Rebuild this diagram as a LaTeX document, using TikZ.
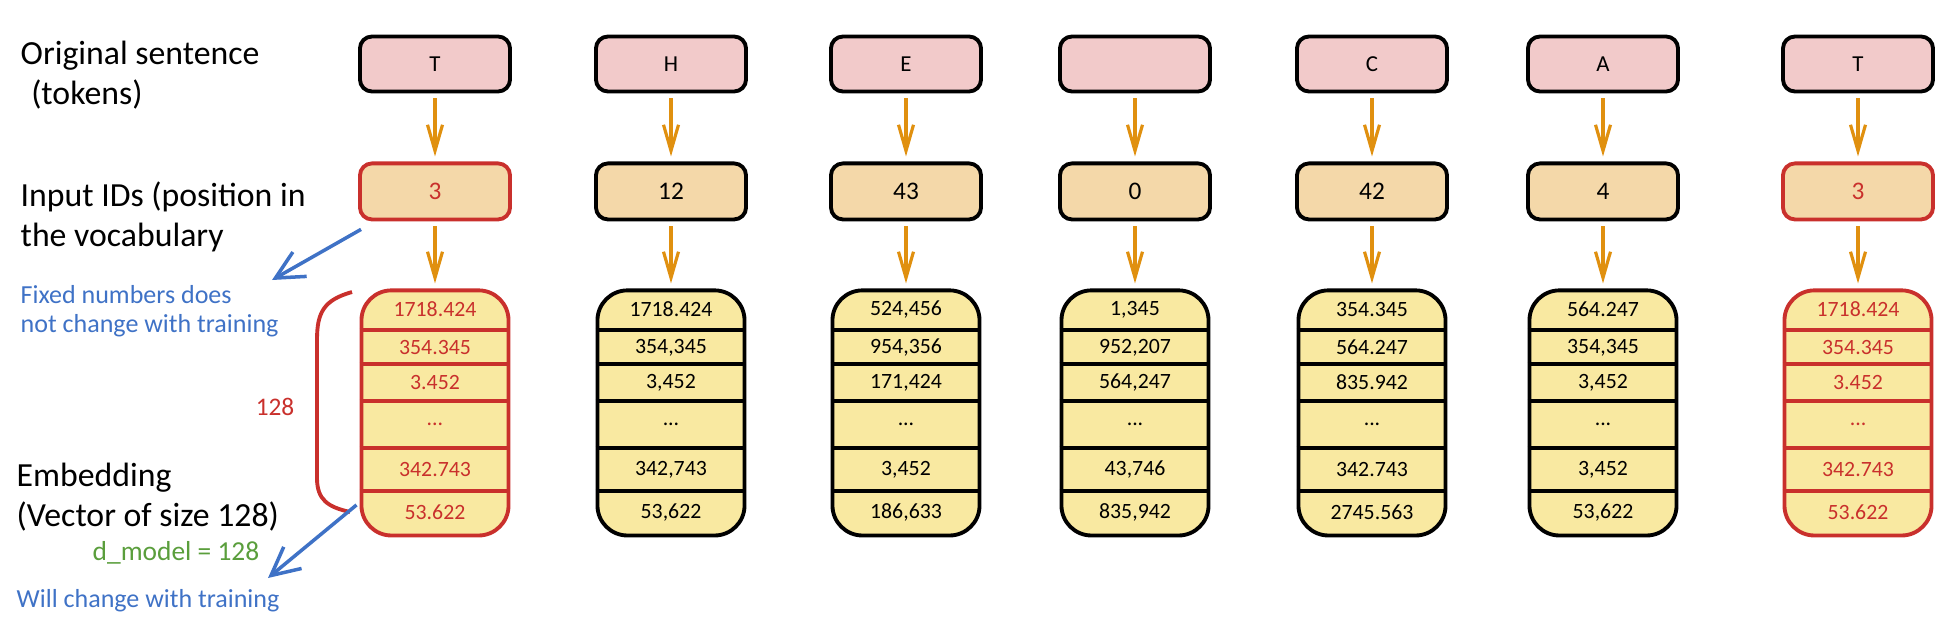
\documentclass[tikz,border=0pt]{standalone}
\usepackage{fontspec}
\setmainfont{Carlito}
\usetikzlibrary{arrows.meta, positioning, calc}

\definecolor{tokpink}{HTML}{F2CACA}
\definecolor{idtan}{HTML}{F4D8A9}
\definecolor{embyellow}{HTML}{F9E9A1}
\definecolor{keyred}{HTML}{C9302C}
\definecolor{arrorange}{HTML}{E0900F}
\definecolor{noteblue}{HTML}{3F72C6}
\definecolor{dimgreen}{HTML}{5A9E3C}

\begin{document}
\begin{tikzpicture}[
    x=0.01cm, y=-0.01cm,
    node distance=0.68cm,
    edge/.style={-{Straight Barb[length=2.6mm, width=1.5mm]}, line width=0.9pt, arrorange, shorten <=0.5mm, shorten >=0.5mm},
    noteedge/.style={-{Straight Barb[length=2.8mm, width=2.8mm]}, line width=1pt, noteblue},
    tok/.style={rectangle, draw, line width=1.1pt, rounded corners=1.2mm, minimum width=1.5cm, minimum height=0.55cm, fill=tokpink, font=\fontsize{6.5}{8}\selectfont},
    tid/.style={rectangle, draw, line width=1.1pt, rounded corners=1.2mm, minimum width=1.5cm, minimum height=0.56cm, fill=idtan, font=\fontsize{7.2}{8}\selectfont},
    emb/.style={rectangle, draw, line width=1.1pt, rounded corners=3mm, minimum width=1.47cm, minimum height=2.45cm, fill=embyellow},
    cell/.style={font=\fontsize{6.2}{7}\selectfont, inner sep=0pt},
    hot/.style={draw=keyred, text=keyred},
    lbl/.style={anchor=west, align=left, inner sep=0pt, font=\fontsize{9.6}{11.5}\selectfont},
    note/.style={anchor=west, align=left, inner sep=0pt, text=noteblue, font=\fontsize{7.4}{8.3}\selectfont}
]
    \useasboundingbox (0,0) rectangle (1957,618);

    % tokens
    \node[tok] (t1) at (435,64)  {T};
    \node[tok] (t2) at (671,64)  {H};
    \node[tok] (t3) at (906,64)  {E};
    \node[tok] (t4) at (1135,64) {};
    \node[tok] (t5) at (1372,64) {C};
    \node[tok] (t6) at (1603,64) {A};
    \node[tok] (t7) at (1858,64) {T};

    % input ids
    \node[tid, hot, below=of t1] (i1) {3};
    \node[tid, below=of t2] (i2) {12};
    \node[tid, below=of t3] (i3) {43};
    \node[tid, below=of t4] (i4) {0};
    \node[tid, below=of t5] (i5) {42};
    \node[tid, below=of t6] (i6) {4};
    \node[tid, hot, below=of t7] (i7) {3};

    % embeddings
    \node[emb, hot, below=0.67cm of i1] (e1) {};
    \node[emb, below=0.67cm of i2] (e2) {};
    \node[emb, below=0.67cm of i3] (e3) {};
    \node[emb, below=0.67cm of i4] (e4) {};
    \node[emb, below=0.67cm of i5] (e5) {};
    \node[emb, below=0.67cm of i6] (e6) {};
    \node[emb, hot, below=0.67cm of i7] (e7) {};

    \foreach \n/\c/\va/\vb/\vc/\vd/\ve in {
        1/keyred/1718.424/354.345/3.452/342.743/53.622,
        2/black/1718.424/{354,345}/{3,452}/{342,743}/{53,622},
        3/black/{524,456}/{954,356}/{171,424}/{3,452}/{186,633},
        4/black/{1,345}/{952,207}/{564,247}/{43,746}/{835,942},
        5/black/354.345/564.247/835.942/342.743/2745.563,
        6/black/564.247/{354,345}/{3,452}/{3,452}/{53,622},
        7/keyred/1718.424/354.345/3.452/342.743/53.622} {
        \foreach \d in {42,76,113,160,203}
            \draw[\c, line width=1.1pt] ($(e\n.north west)+(0,\d)$) -- ($(e\n.north east)+(0,\d)$);
        \node[cell, text=\c] (e\n-1) at ($(e\n.north)+(0,21)$)  {\va};
        \node[cell, text=\c] (e\n-2) at ($(e\n.north)+(0,59)$)  {\vb};
        \node[cell, text=\c] (e\n-3) at ($(e\n.north)+(0,94)$)  {\vc};
        \node[cell, text=\c] (e\n-4) at ($(e\n.north)+(0,136)$) {...};
        \node[cell, text=\c] (e\n-5) at ($(e\n.north)+(0,181)$) {\vd};
        \node[cell, text=\c] (e\n-6) at ($(e\n.north)+(0,224)$) {\ve};
    }

    \foreach \n in {1,...,7} {
        \draw[edge] (t\n) -- (i\n);
        \draw[edge] (i\n) -- (e\n);
    }

    % left side labels
    \node[lbl] (orig) at (20,75) {Original sentence\\\hspace*{3pt}(tokens)};
    \node[lbl] (ids) at (20,217) {Input IDs (position in\\the vocabulary};
    \node[note] (fixed) at (20,311) {Fixed numbers does\\not change with training};
    \node[lbl] (embl) at (16,497) {Embedding\\(Vector of size 128)};
    \node[font=\fontsize{7.8}{8}\selectfont, text=dimgreen, inner sep=0pt] (dmodel) at (176,553) {d\_model = 128};
    \node[note] (willchange) at (16,601) {Will change with training};

    % size bracket
    \draw[keyred, line width=1.1pt] (352,292) .. controls (324,300) and (317,312) .. (317,340) -- (317,478) .. controls (317,500) and (328,507) .. (350,512);
    \node[font=\fontsize{7.2}{8}\selectfont, text=keyred, inner sep=0pt] (size) at (275,407) {128};

    \coordinate (fixtip) at (272,280);
    \coordinate (traintip) at (268,578);
    \draw[noteedge] ($(i1.south west)+(3,8)$) -- (fixtip);
    \draw[noteedge] ($(e1.west)+(-3,92)$) -- (traintip);
\end{tikzpicture}
\end{document}
